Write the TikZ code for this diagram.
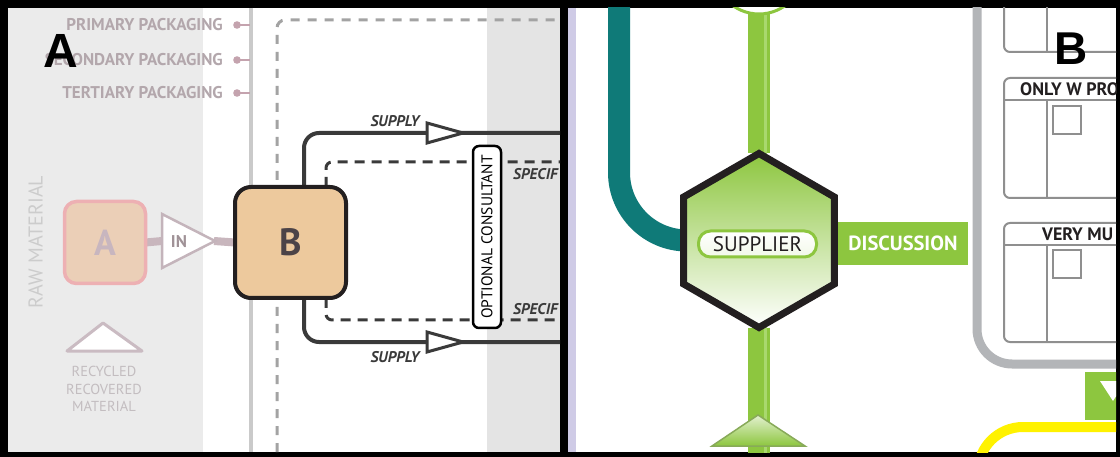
\documentclass[tikz,border=0pt]{standalone}
\usepackage{fontspec}
\setmainfont{PT Sans}
\newfontfamily\labfont{Liberation Sans}
\usetikzlibrary{shapes.geometric}
\pgfdeclarelayer{back}
\pgfdeclarelayer{lines}
\pgfsetlayers{back,lines,main}
\newcommand\myfs[1]{\fontsize{#1pt}{#1pt}\selectfont}
\definecolor{bandL}{HTML}{EBEBEB}
\definecolor{bandR}{HTML}{E4E4E4}
\definecolor{vgray}{HTML}{CACACA}
\definecolor{dgray}{HTML}{A3A3A3}
\definecolor{pkgtext}{HTML}{B3A7AC}
\definecolor{pkgdot}{HTML}{C4A3AE}
\definecolor{boxAfill}{HTML}{EBCFB7}
\definecolor{boxAdraw}{HTML}{EDB0B3}
\definecolor{Atext}{HTML}{C8B6BF}
\definecolor{gbarc}{HTML}{C8B6BD}
\definecolor{intric}{HTML}{C4B4BB}
\definecolor{boxBfill}{HTML}{EDC99D}
\definecolor{dk}{HTML}{231F20}
\definecolor{Btext}{HTML}{4C4347}
\definecolor{supc}{HTML}{3A3A3A}
\definecolor{rawc}{HTML}{CCCCCC}
\definecolor{recyc}{HTML}{C3BDC0}
\definecolor{lav}{HTML}{CFCBE6}
\definecolor{tealc}{HTML}{0F7A78}
\definecolor{gcol}{HTML}{8DC63F}
\definecolor{glite}{HTML}{A9D86E}
\definecolor{framec}{HTML}{B3B5B8}
\definecolor{boxline}{HTML}{8F8F8F}
\definecolor{yelc}{HTML}{FFF200}
\begin{document}
\begin{tikzpicture}[x=1pt,y=-1pt,
  pkg/.style={anchor=east,inner sep=0pt,text=pkgtext,font=\bfseries\myfs{17}},
  panellbl/.style={inner sep=0pt,text=black,font=\labfont\bfseries\myfs{46}},
  boxa/.style={draw=boxAdraw,line width=3.5pt,fill=boxAfill,rounded corners=12pt,minimum width=81pt,minimum height=82pt,inner sep=0pt,outer sep=0pt,text=Atext,font=\bfseries\myfs{36}},
  boxb/.style={draw=dk,line width=4pt,fill=boxBfill,rounded corners=16pt,minimum width=111pt,minimum height=111pt,inner sep=0pt,outer sep=0pt,text=Btext,font=\bfseries\myfs{38}},
  gbar/.style={draw=gbarc,line width=8pt},
  supply/.style={draw=supc,line width=4pt,rounded corners=15pt},
  specdash/.style={draw=supc,line width=3pt,dash pattern=on 10pt off 7pt,rounded corners=6pt},
  supplbl/.style={inner sep=0pt,text=supc,font=\bfseries\itshape\myfs{15.5}},
  consult/.style={draw=black,fill=white,line width=2.5pt,rounded corners=6pt,minimum width=182pt,minimum height=28pt,inner sep=0pt,font=\myfs{15.5}},
  openarrow/.style={fill=white,draw=supc,line width=3pt,line join=miter},
  gline/.style={draw=gcol,line width=22pt},
  hexnode/.style={regular polygon,regular polygon sides=6,shape border rotate=30,minimum size=174pt,inner sep=0pt,outer sep=0pt,draw=dk,line width=7pt,top color=gcol,middle color=glite,bottom color=white},
  supnode/.style={draw=gcol,line width=3pt,top color=white,bottom color=gcol!12,rounded corners=12pt,minimum width=118pt,minimum height=26pt,inner sep=0pt,text=dk,font=\myfs{21}},
  discnode/.style={fill=gcol,minimum width=130pt,minimum height=43pt,inner sep=0pt,text=white,font=\bfseries\myfs{20.5}},
  ibox/.style={draw=boxline,line width=2pt,rounded corners=6pt},
  ihead/.style={anchor=west,inner sep=0pt,text=dk,font=\bfseries\myfs{18}}
]
\useasboundingbox (0,0) rectangle (1120,457);
% ---------- frame and backgrounds ----------
\begin{pgfonlayer}{back}
  \fill[black] (0,0) rectangle (1120,457);
  \fill[white] (8,8) rectangle (560,452);
  \fill[bandL] (8,8) rectangle (203,452);
  \fill[bandR] (487,8) rectangle (560,452);
  \fill[white] (576,8) rectangle (1116,452);
  \fill[lav] (568,8) rectangle (576,452);
  % panel A guide lines
  \draw[vgray,line width=3.5pt] (251,8) -- (251,452);
  \draw[dgray,line width=3pt,dash pattern=on 9pt off 8pt,rounded corners=8pt] (277,452) -- (277,20) -- (560,20);
  % packaging markers
  \foreach \yy in {25,60,93}{
    \draw[pkgdot,line width=2pt] (237,\yy) -- (250,\yy);
    \fill[pkgdot] (237,\yy) circle (3.8pt);
  }
\end{pgfonlayer}

% ---------- panel A ----------
\begin{scope}
\clip (8,8) rectangle (560,452);
\node[pkg] (pkg1) at (223,25) {PRIMARY PACKAGING};
\node[pkg] (pkg2) at (223,60) {SECONDARY PACKAGING};
\node[pkg] (pkg3) at (223,93) {TERTIARY PACKAGING};
\node[panellbl,font=\labfont\bfseries\myfs{48}] (labA) at (61,51) {A};

\node[rotate=90,inner sep=0pt,text=rawc,font=\myfs{20}] (raw) at (35.5,242) {RAW MATERIAL};
\node[boxa] (boxA) at (105,242.5) {A};

\filldraw[fill=white,draw=intric,line width=2.5pt,line join=miter] (162,214) -- (215,241) -- (162,268) -- cycle;
\coordinate (inL) at (162,241);
\coordinate (inR) at (214,241);
\node[inner sep=0pt,text=gbarc!80!black,font=\bfseries\myfs{17}] (inTxt) at (179,242) {IN};

\filldraw[fill=white,draw=intric!90,line width=3pt,line join=round] (67,351) -- (103,323) -- (142,351) -- cycle;
\node[inner sep=0pt,align=center,text=recyc,font=\fontsize{14.5pt}{17.5pt}\selectfont] (recy) at (104,389) {RECYCLED\\RECOVERED\\MATERIAL};

\node[boxb] (boxB) at (290.5,242.5) {B};

\filldraw[openarrow] (427,123) -- (463,133) -- (427,143) -- cycle;
\filldraw[openarrow] (427,332) -- (463,342) -- (427,352) -- cycle;
\node[supplbl] (supT) at (395,121) {SUPPLY};
\node[supplbl] (supB) at (395,357) {SUPPLY};
\node[supplbl,anchor=west] (spT) at (513,174) {SPECIF};
\node[supplbl,anchor=west] (spB) at (513,309) {SPECIF};

\node[consult,rotate=90] (cons) at (487,237) {OPTIONAL CONSULTANT};
\end{scope}

\coordinate (supTopEnd) at (560,133);
\coordinate (supBotEnd) at (560,342);
\coordinate (specTopEnd) at (560,162);
\coordinate (specBotEnd) at (560,320);
\begin{pgfonlayer}{lines}
  \draw[gbar] (boxA.east) -- (inL);
  \draw[gbar] (inR) -- (boxB.west);
  \draw[supply] ([xshift=13.5pt]boxB.north) |- (supTopEnd);
  \draw[supply] ([xshift=13.5pt]boxB.south) |- (supBotEnd);
  \draw[specdash] ([xshift=35.5pt]boxB.north) |- (specTopEnd);
  \draw[specdash] ([xshift=35.5pt]boxB.south) |- (specBotEnd);
\end{pgfonlayer}

% ---------- panel B ----------
\begin{scope}
\clip (576,8) rectangle (1116,452);
% inner boxes
\draw[ibox] (1004,-10) rectangle (1140,52);
\draw[boxline,line width=2pt] (1047,-10) -- (1047,52);
\draw[ibox] (1004,78) rectangle (1140,198);
\draw[boxline,line width=2pt] (1004,100) -- (1140,100);
\draw[boxline,line width=2pt] (1047,100) -- (1047,198);
\draw[boxline,line width=1.5pt,fill=white] (1053,106) rectangle (1081,134);
\draw[ibox] (1004,223) rectangle (1140,342);
\draw[boxline,line width=2pt] (1004,245) -- (1140,245);
\draw[boxline,line width=2pt] (1047,245) -- (1047,342);
\draw[boxline,line width=1.5pt,fill=white] (1053,250) rectangle (1081,278);
\node[ihead] (h2) at (1020,89.5) {ONLY W PRO};
\node[ihead] (h3) at (1042,234) {VERY MU};
\node[panellbl] (labB) at (1071,48.5) {B};

\node[fill=gcol,minimum width=40pt,minimum height=48pt,inner sep=0pt] (gsq) at (1105,396) {};
\fill[white] (1100,381) -- (1126,381) -- (1113,401) -- cycle;

\node[circle,draw=gcol,fill=white,line width=3pt,minimum size=90pt,inner sep=0pt,outer sep=0pt] (topc) at (759,-31) {};
\node[discnode] (disc) at (903,243.5) {DISCUSSION};
\node[hexnode] (hex) at (759,240.5) {};
\node[supnode] (supplier) at (757.5,244) {SUPPLIER};
\filldraw[draw=gcol!60!gray,line width=1.5pt,top color=gcol!25,bottom color=gcol] (712,446) -- (758,415) -- (805,446) -- cycle;
\end{scope}

\coordinate (tealTop) at (619,0);
\coordinate (gBot) at (759,460);
\coordinate (frameTop) at (977,0);
\coordinate (frameEnd) at (1130,364);
\coordinate (yelStart) at (978,480);
\coordinate (yelEnd) at (1130,427);
\begin{pgfonlayer}{lines}
  \begin{scope}
  \clip (576,8) rectangle (1116,452);
  \draw[tealc,line width=22pt,rounded corners=68pt] (tealTop) |- (hex.west);
  \draw[gline] (topc.south) -- (hex.north);
  \draw[gline] (hex.south) -- (gBot);
  \draw[glite,line width=3pt] (765,0) -- (765,460);
  \draw[framec,line width=9pt,rounded corners=35pt] (frameTop) |- (frameEnd);
  \draw[yelc,line width=10pt,rounded corners=45pt] (yelStart) |- (yelEnd);
  \end{scope}
\end{pgfonlayer}
\end{tikzpicture}
\end{document}
